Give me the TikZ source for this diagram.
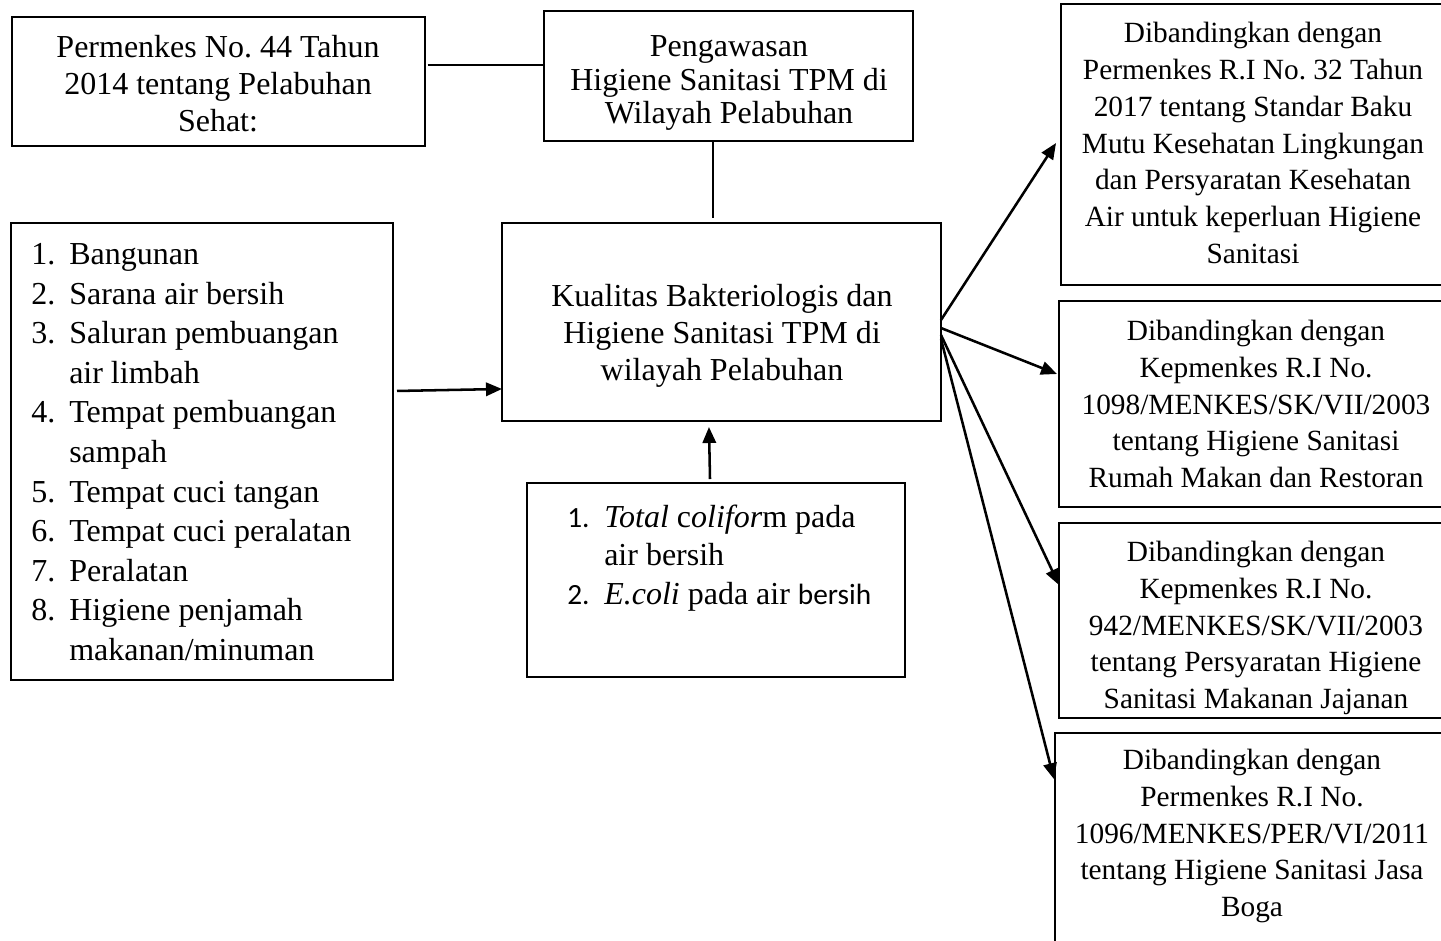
\documentclass[tikz,border=0pt]{standalone}
\usepackage{fontspec}
\setmainfont{Liberation Serif}
\newfontfamily\calibri{Carlito}
\usetikzlibrary{arrows.meta,fit,calc}
\frenchspacing
\begin{document}
\begin{tikzpicture}[x=0.75pt,y=-0.75pt,
  box/.style={draw, line width=1.2pt, inner sep=0pt, outer sep=0pt},
  txt/.style={inner sep=0pt, align=center, font=\fontsize{24}{27.75}\selectfont},
  rtxt/.style={inner sep=0pt, align=center, font=\fontsize{22}{27.6}\selectfont},
  ltxt/.style={inner sep=0pt, align=left, anchor=west},
  conn/.style={line width=1.1pt},
  arr/.style={line width=1.9pt, -{Triangle[length=12pt,width=10pt]}}]
\useasboundingbox (0,0) rectangle (1441,940);
\clip (0,0) rectangle (1441,940);
% boxes
\node[box, fit={(12,17)(425,146)}] (A) {};
\node[box, fit={(544,11)(913,141)}] (B) {};
\node[box, fit={(502,223)(941,421)}] (C) {};
\node[box, fit={(11,223)(393,680)}] (L) {};
\node[box, fit={(527,483)(905,677)}] (D) {};
\node[box, fit={(1061,4)(1480,285)}] (R1) {};
\node[box, fit={(1059,301)(1480,507)}] (R2) {};
\node[box, fit={(1059,523)(1480,718)}] (R3) {};
\node[box, fit={(1055,733)(1480,980)}] (R4) {};
% texts
\node[txt] (At) at (218,84) {Permenkes No. 44 Tahun\\2014 tentang Pelabuhan\\Sehat:};
\node[txt, font=\fontsize{24}{25.2}\selectfont] (Bt) at (729,83) {Pengawasan\\Higiene Sanitasi TPM di\\Wilayah Pelabuhan};
\node[txt] (Ct) at (722,336) {Kualitas Bakteriologis dan\\Higiene Sanitasi TPM di\\wilayah Pelabuhan};
\node[ltxt, font=\fontsize{24}{29.7}\selectfont] (Lt) at (31,452) {%
\makebox[28.5pt][l]{1.}Bangunan\\
\makebox[28.5pt][l]{2.}Sarana air bersih\\
\makebox[28.5pt][l]{3.}Saluran pembuangan\\
\makebox[28.5pt][l]{}air limbah\\
\makebox[28.5pt][l]{4.}Tempat pembuangan\\
\makebox[28.5pt][l]{}sampah\\
\makebox[28.5pt][l]{5.}Tempat cuci tangan\\
\makebox[28.5pt][l]{6.}Tempat cuci peralatan\\
\makebox[28.5pt][l]{7.}Peralatan\\
\makebox[28.5pt][l]{8.}Higiene penjamah\\
\makebox[28.5pt][l]{}makanan/minuman};
\node[ltxt, font=\fontsize{24}{29}\selectfont] (Dt) at (567,558) {%
\makebox[27.75pt][l]{\calibri\fontsize{22}{29}\selectfont 1.}\textit{Total} c\textit{olifor}m pada\\
\makebox[27.75pt][l]{}air bersih\\
\makebox[27.75pt][l]{\calibri\fontsize{22}{29}\selectfont 2.}\textit{E.coli} pada air {\calibri\fontsize{22}{29}\selectfont bersih}};
\node[rtxt] (R1t) at (1253,143) {Dibandingkan dengan\\Permenkes R.I No. 32 Tahun\\2017 tentang Standar Baku\\Mutu Kesehatan Lingkungan\\dan Persyaratan Kesehatan\\Air untuk keperluan Higiene\\Sanitasi};
\node[rtxt] (R2t) at (1256,404) {Dibandingkan dengan\\Kepmenkes R.I No.\\1098/MENKES/SK/VII/2003\\tentang Higiene Sanitasi\\Rumah Makan dan Restoran};
\node[rtxt] (R3t) at (1256,628) {Dibandingkan dengan\\Kepmenkes R.I No.\\942/MENKES/SK/VII/2003\\tentang Persyaratan Higiene\\Sanitasi Makanan Jajanan};
\node[rtxt] (R4t) at (1252,836) {Dibandingkan dengan\\Permenkes R.I No.\\1096/MENKES/PER/VI/2011\\tentang Higiene Sanitasi Jasa\\Boga};
% connectors
\coordinate (ab) at ([yshift=12.4pt]A.east);
\draw[conn] ([xshift=2pt]ab) -- (ab -| B.west);
\coordinate (bc) at ([xshift=-11.6pt]B.south);
\draw[conn] (bc) -- ([yshift=3.75pt]bc |- C.north);
\coordinate (lc) at ([xshift=3pt,yshift=45.4pt]L.east);
\coordinate (lce) at ([yshift=1.5pt]lc -| C.west);
\draw[arr] (lc) -- (lce);
\draw[arr] ([xshift=-4.5pt,yshift=3pt]D.north) -- ([xshift=-9.4pt,yshift=-4.5pt]C.south);
\draw[arr] ([yshift=1.5pt]C.east) -- ([xshift=-3.75pt,yshift=1.1pt]R1.west);
\draw[arr] ([yshift=-4.5pt]C.east) -- ([xshift=-1.5pt,yshift=22.5pt]R2.west);
\draw[arr] ([yshift=-9.75pt]C.east) -- ([yshift=26.6pt]R3.west);
\draw[arr] ([yshift=-12.75pt]C.east) -- ([xshift=-0.75pt,yshift=58pt]R4.west);
\end{tikzpicture}
\end{document}
